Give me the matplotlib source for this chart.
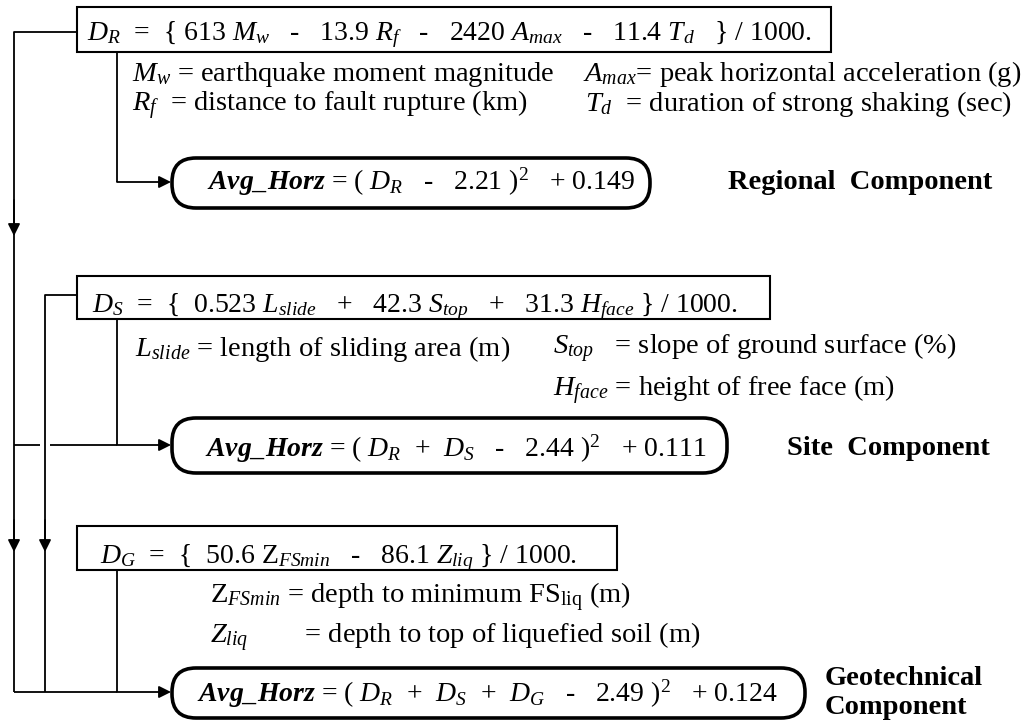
import matplotlib
matplotlib.use('Agg')
import matplotlib.pyplot as plt
from matplotlib.patches import Rectangle, FancyBboxPatch

plt.rcParams['font.family'] = ['Liberation Serif', 'DejaVu Serif']
plt.rcParams['mathtext.fontset'] = 'custom'
plt.rcParams['mathtext.rm'] = 'Liberation Serif'
plt.rcParams['mathtext.it'] = 'Liberation Serif:italic'
plt.rcParams['mathtext.bf'] = 'Liberation Serif:italic:bold'

# regression coefficients of each component
regional_coef = [613, 13.9, 2420, 11.4]
site_coef = [0.523, 42.3, 31.3]
geo_coef = [50.6, 86.1]
avg_const = [2.21, 2.44, 2.49]
avg_add = [0.149, 0.111, 0.124]

component_names = ['Regional  Component', 'Site  Component', 'Geotechnical', 'Component']

eq_regional = (r'$D_R$  =  {{ {} $M_w$   -   {} $R_f$   -   {} $A_{{max}}$   -   {} $T_d$   }} / 1000.'
               .format(*regional_coef))
eq_site = (r'$D_S$  =  {{  {} $L_{{slide}}$   +   {} $S_{{top}}$   +   {} $H_{{face}}$ }} / 1000.'
           .format(*site_coef))
eq_geo = r'$D_G$  =  {{  {} Z$_{{FSmin}}$   -   {} $Z_{{liq}}$ }} / 1000.'.format(*geo_coef)

avg_terms = [r'$D_R$', r'$D_R$  +  $D_S$', r'$D_R$  +  $D_S$  +  $D_G$']
avg_eqs = [r'$\mathbf{Avg\_Horz}$ = ( ' + t + '   -   {} )$^2$   + {}'.format(c, a)
           for t, c, a in zip(avg_terms, avg_const, avg_add)]

defs_regional = [r'$M_w$ = earthquake moment magnitude', r'$R_f$  = distance to fault rupture (km)',
                 r'$A_{max}$= peak horizontal acceleration (g)', r'$T_d$  = duration of strong shaking (sec)']
defs_site = [r'$L_{slide}$ = length of sliding area (m)', r'$S_{top}$   = slope of ground surface (%)',
             r'$H_{face}$ = height of free face (m)']
defs_geo = [r'Z$_{FSmin}$ = depth to minimum FS$_{\mathrm{liq}}$ (m)',
            r'$Z_{liq}$        = depth to top of liquefied soil (m)']

fig = plt.figure(figsize=(10.24, 7.27), dpi=100)
ax = fig.add_axes([0, 0, 1, 1])
ax.set_xlim(0, 1024)
ax.set_ylim(727, 0)
ax.axis('off')

fs = 20
fs_def = 20.5
lw_line = 1.3


def line(xs, ys):
    ax.plot(xs, ys, color='k', lw=lw_line, solid_capstyle='butt')


def arrow(x0, y0, x1, y1):
    ax.annotate('', xy=(x1, y1), xytext=(x0, y0),
                arrowprops=dict(arrowstyle='-|>', color='k', lw=lw_line,
                                mutation_scale=18, shrinkA=0, shrinkB=0))


def rect_box(x0, y0, x1, y1):
    ax.add_patch(Rectangle((x0, y0), x1 - x0, y1 - y0, fill=False, ec='k', lw=1.5))


def round_box(x0, y0, x1, y1):
    ax.add_patch(FancyBboxPatch((x0, y0), x1 - x0, y1 - y0,
                                boxstyle='round,pad=0,rounding_size=24',
                                fill=False, ec='k', lw=2.6))


# --- regional ---
rect_box(77, 7, 831, 52)
ax.text(87, 40, eq_regional, fontsize=fs, va='baseline')
ax.text(132, 81, defs_regional[0], fontsize=fs_def, va='baseline')
ax.text(132, 111, defs_regional[1], fontsize=fs_def, va='baseline')
ax.text(583, 81, defs_regional[2], fontsize=fs_def, va='baseline')
ax.text(585, 111, defs_regional[3], fontsize=fs_def, va='baseline')
round_box(172, 158, 650, 208)
ax.text(207, 190, avg_eqs[0], fontsize=fs, va='baseline')
ax.text(728, 189, component_names[0], fontsize=fs_def, va='baseline', fontweight='bold')

# --- site ---
rect_box(77, 276, 770, 319)
ax.text(92, 312, eq_site, fontsize=fs, va='baseline')
ax.text(135, 356, defs_site[0], fontsize=fs_def, va='baseline')
ax.text(553, 354, defs_site[1], fontsize=fs_def, va='baseline')
ax.text(553, 396, defs_site[2], fontsize=fs_def, va='baseline')
round_box(172, 418, 727, 473)
ax.text(205, 457, avg_eqs[1], fontsize=fs, va='baseline')
ax.text(787, 455, component_names[1], fontsize=fs_def, va='baseline', fontweight='bold')

# --- geotechnical ---
rect_box(77, 526, 617, 570)
ax.text(100, 563, eq_geo, fontsize=fs, va='baseline')
ax.text(210, 603, defs_geo[0], fontsize=fs_def, va='baseline')
ax.text(210, 643, defs_geo[1], fontsize=fs_def, va='baseline')
round_box(172, 668, 805, 718)
ax.text(197, 702, avg_eqs[2], fontsize=fs, va='baseline')
ax.text(825, 685, component_names[2], fontsize=fs_def, va='baseline', fontweight='bold')
ax.text(825, 714, component_names[3], fontsize=fs_def, va='baseline', fontweight='bold')

# --- connectors ---
# outer line from D_R
line([77, 14, 14], [32, 32, 692])
arrow(14, 200, 14, 236)
arrow(14, 520, 14, 552)
# line from D_S
line([77, 45, 45], [295, 295, 692])
arrow(45, 520, 45, 552)
# bottom feed into geotechnical
line([14, 117], [692, 692])
arrow(117, 692, 171, 692)
line([117, 117], [570, 692])
# feed into site
line([14, 40], [445, 445])
line([50, 117], [445, 445])
arrow(117, 445, 171, 445)
line([117, 117], [319, 445])
# feed into regional
line([117, 117], [52, 182])
arrow(117, 182, 171, 182)

fig.savefig('out.png', dpi=100, facecolor='white')
